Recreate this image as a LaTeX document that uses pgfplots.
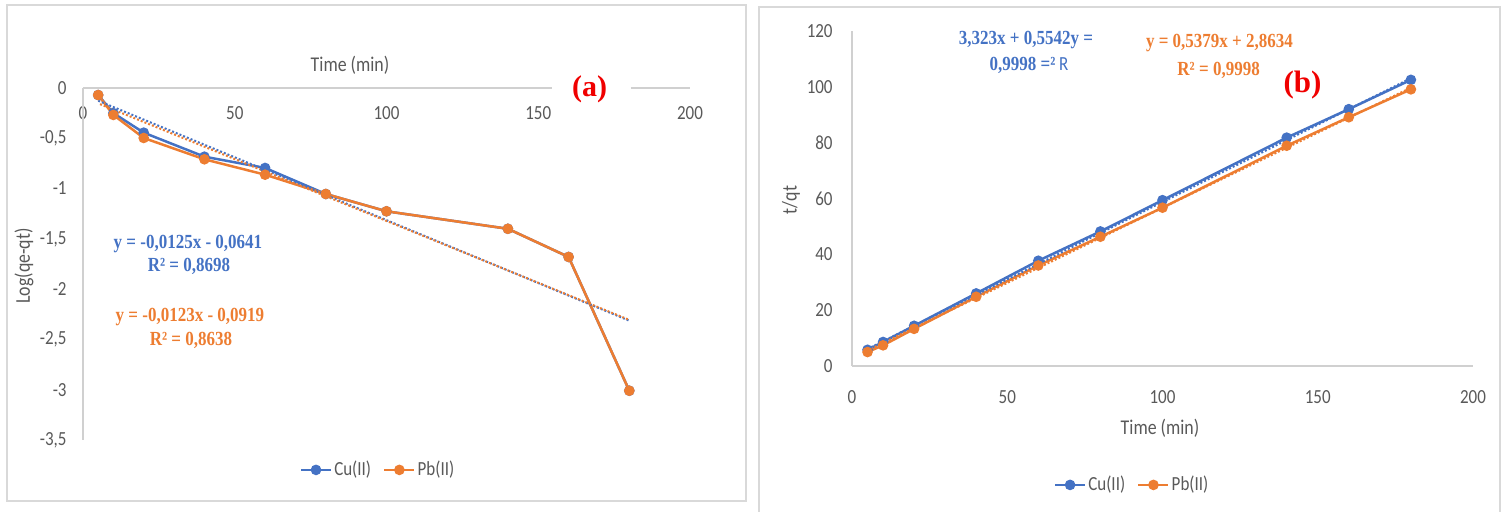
\documentclass[border=0pt]{standalone}
\usepackage{fontspec}
\setmainfont{Carlito}[FakeStretch=0.85]
\newfontfamily\eqfont{Liberation Serif}[FakeStretch=0.85]
\newfontfamily\labfont{Liberation Serif}
\usepackage{pgfplots}
\pgfplotsset{compat=1.18}
\definecolor{cublue}{HTML}{4472C4}
\definecolor{pborange}{HTML}{ED7D31}
\definecolor{txtgray}{HTML}{595959}
\definecolor{axgray}{HTML}{D0D0D0}
\definecolor{framegray}{HTML}{D9D9D9}
\definecolor{labred}{HTML}{F00000}
\pgfplotsset{
  cu/.style={cublue, line width=1.25pt, mark=*, mark size=2pt, mark options={solid, fill=cublue, draw=cublue}},
  pb/.style={pborange, line width=1.25pt, mark=*, mark size=2pt, mark options={solid, fill=pborange, draw=pborange}},
  trend/.style={line width=1pt, dash pattern=on 1pt off 1pt, forget plot},
  xllegend/.style={legend style={draw=none, fill=none,
    legend columns=2, font=\fontsize{10}{12}\selectfont, text=txtgray,
    nodes={inner sep=1pt},
    /tikz/every even column/.append style={column sep=5pt}},
    legend image code/.code={\draw[mark repeat=2,mark phase=2] plot coordinates {(0pt,0pt)(7.5pt,0pt)(15pt,0pt)};}},
}
\begin{document}
\begin{tikzpicture}
\useasboundingbox (0,0) rectangle (753pt,256pt);
\begin{scope}[x=0.5pt,y=-0.5pt,shift={(0,256pt)}]
\draw[framegray, line width=0.75pt] (7,5) rectangle (746,501);
\draw[framegray, line width=0.75pt] (759,530) -- (759,7) -- (1500,7) -- (1500,530);
\end{scope}

% ---------------- panel (a)
\begin{axis}[
  at={(41.5pt,36pt)}, anchor=south west,
  scale only axis, width=303.5pt, height=176pt,
  xmin=0, xmax=200, ymin=-3.5, ymax=0,
  axis line style={draw=none},
  clip=false,
  xtick={0,50,100,150,200},
  ytick={-3.5,-3,-2.5,-2,-1.5,-1,-0.5,0},
  yticklabels={{-3,5},{-3},{-2,5},{-2},{-1,5},{-1},{-0,5},{0}},
  major tick length=0pt,
  xticklabel pos=upper,
  xticklabel style={anchor=center, inner sep=0pt, yshift=-12.3pt},
  yticklabel style={anchor=east, inner sep=0pt, xshift=-8pt},
  tick label style={font=\fontsize{10}{12}\selectfont, text=txtgray},
  /pgf/number format/assume math mode=true,
  xllegend,
  legend style={at={(0.486,-0.085)}, anchor=center},
]
\draw[axgray, line width=0.75pt] (axis cs:0,0) -- (axis cs:154.5,0);
\draw[axgray, line width=0.75pt] (axis cs:180.5,0) -- (axis cs:200,0);
\draw[axgray, line width=0.75pt] (axis cs:0,0) -- (axis cs:0,-3.5);
\addplot[cu] coordinates {(5,-0.07) (10,-0.25) (20,-0.444) (40,-0.683) (60,-0.795) (80,-1.054) (100,-1.226) (140,-1.40) (160,-1.68) (180,-3.01)};
\addlegendentry{Cu(II)}
\addplot[pb] coordinates {(5,-0.07) (10,-0.268) (20,-0.497) (40,-0.709) (60,-0.862) (80,-1.054) (100,-1.226) (140,-1.40) (160,-1.68) (180,-3.01)};
\addlegendentry{Pb(II)}
\addplot[trend, cublue] coordinates {(5,-0.1266) (180,-2.3141)};
\addplot[trend, pborange, dash phase=1pt] coordinates {(5,-0.1534) (180,-2.3059)};
\end{axis}

% ---------------- panel (b)
\begin{axis}[
  at={(426pt,73pt)}, anchor=south west,
  scale only axis, width=310.5pt, height=167.5pt,
  xmin=0, xmax=200, ymin=0, ymax=120,
  axis line style={draw=none},
  clip=false,
  xtick={0,50,100,150,200},
  ytick={0,20,40,60,80,100,120},
  major tick length=0pt,
  xticklabel style={anchor=center, inner sep=0pt, yshift=-15.3pt},
  yticklabel style={anchor=east, inner sep=0pt, xshift=-9.5pt},
  tick label style={font=\fontsize{10}{12}\selectfont, text=txtgray},
  /pgf/number format/assume math mode=true,
  xllegend,
  legend style={at={(0.451,-0.355)}, anchor=center},
]
\draw[axgray, line width=0.75pt] (axis cs:0,0) -- (axis cs:200,0);
\draw[axgray, line width=0.75pt] (axis cs:0,0) -- (axis cs:0,120);
\addplot[cu] coordinates {(5,5.8) (10,8.6) (20,14.4) (40,26.0) (60,37.7) (80,48.2) (100,59.4) (140,81.8) (160,92.0) (180,102.5)};
\addlegendentry{Cu(II)}
\addplot[pb] coordinates {(5,5.0) (10,7.4) (20,13.3) (40,24.8) (60,36.0) (80,46.3) (100,56.7) (140,78.9) (160,89.1) (180,99.1)};
\addlegendentry{Pb(II)}
\addplot[trend, cublue] coordinates {(5,6.094) (180,103.079)};
\addplot[trend, pborange] coordinates {(5,5.553) (180,99.685)};
\end{axis}

% ---------------- texts
\begin{scope}[x=0.5pt,y=-0.5pt,shift={(0,256pt)}]
\node[txtgray, font=\fontsize{10.5}{12}\selectfont] at (350,65) {Time (min)};
\node[txtgray, font=\fontsize{10.5}{12}\selectfont, rotate=90] at (24,266) {Log(qe-qt)};
\node[text=labred, font=\labfont\bfseries\fontsize{15}{16}\selectfont] at (589.5,89) {(a)};
\node[cublue, font=\eqfont\bfseries\fontsize{10}{12}\selectfont] at (188,244) {y = -0,0125x - 0,0641};
\node[cublue, font=\eqfont\bfseries\fontsize{10}{12}\selectfont] at (189,266) {R² = 0,8698};
\node[pborange, font=\eqfont\bfseries\fontsize{10}{12}\selectfont] at (190,317) {y = -0,0123x - 0,0919};
\node[pborange, font=\eqfont\bfseries\fontsize{10}{12}\selectfont] at (191,340) {R² = 0,8638};

\node[txtgray, font=\fontsize{10.5}{12}\selectfont] at (1160,428) {Time (min)};
\node[txtgray, font=\fontsize{10.5}{12}\selectfont, rotate=90] at (791,200) {t/qt};
\node[text=labred, font=\labfont\bfseries\fontsize{15.5}{16}\selectfont] at (1302.5,85) {(b)};
\node[cublue, font=\eqfont\bfseries\fontsize{10}{12}\selectfont] at (1026,40) {3,323x + 0,5542y =};
\node[cublue, font=\fontsize{10}{12}\selectfont] at (1029,65) {{\eqfont\bfseries 0,9998 =²} R};
\node[pborange, font=\eqfont\bfseries\fontsize{10}{12}\selectfont] at (1219.5,43.3) {y = 0,5379x + 2,8634};
\node[pborange, font=\eqfont\bfseries\fontsize{10}{12}\selectfont] at (1218.6,70) {R² = 0,9998};
\end{scope}
\end{tikzpicture}
\end{document}
